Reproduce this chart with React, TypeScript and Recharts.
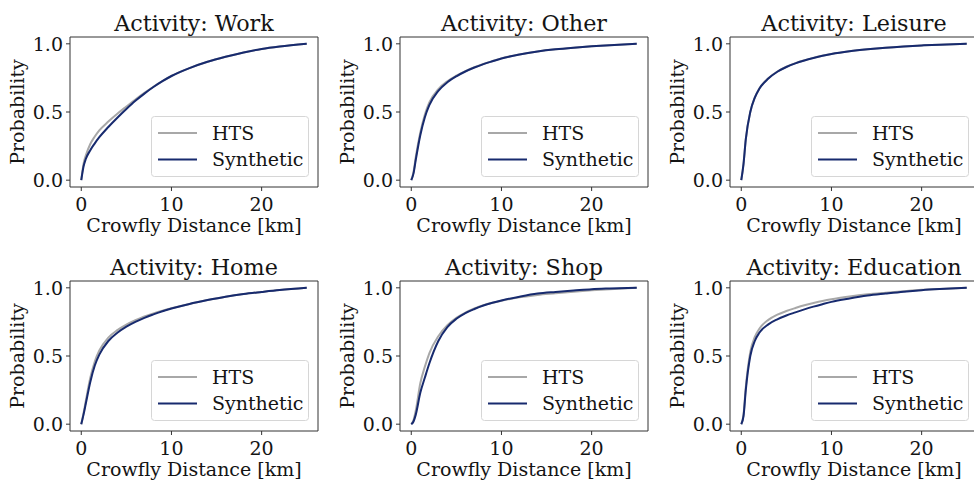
import React from "react";
import { LineChart, Line, XAxis, YAxis, ReferenceArea, Legend } from "recharts";

const distances = [0, 0.25, 0.5, 1, 1.5, 2, 3, 4, 5, 6, 7, 8, 9, 10, 12, 14, 16, 18, 20, 22, 25];

const workHTS = [0, 0.12, 0.18, 0.265, 0.32, 0.365, 0.43, 0.487, 0.54, 0.592, 0.64, 0.685, 0.726, 0.764, 0.822, 0.868, 0.905, 0.937, 0.962, 0.98, 1.0];
const workSyn = [0, 0.1, 0.155, 0.22, 0.27, 0.315, 0.39, 0.458, 0.522, 0.582, 0.635, 0.683, 0.726, 0.764, 0.822, 0.868, 0.905, 0.937, 0.962, 0.98, 1.0];

const otherHTS = [0, 0.06, 0.17, 0.35, 0.48, 0.57, 0.668, 0.726, 0.766, 0.8, 0.828, 0.852, 0.873, 0.893, 0.922, 0.944, 0.96, 0.972, 0.982, 0.99, 1.0];
const otherSyn = [0, 0.05, 0.15, 0.33, 0.46, 0.55, 0.655, 0.718, 0.762, 0.797, 0.826, 0.851, 0.872, 0.892, 0.922, 0.944, 0.96, 0.972, 0.982, 0.99, 1.0];

const leisureHTS = [0, 0.12, 0.3, 0.5, 0.605, 0.672, 0.748, 0.797, 0.832, 0.858, 0.879, 0.897, 0.912, 0.925, 0.945, 0.96, 0.972, 0.981, 0.988, 0.994, 1.0];
const leisureSyn = [0, 0.12, 0.3, 0.5, 0.605, 0.67, 0.745, 0.795, 0.83, 0.857, 0.878, 0.896, 0.912, 0.925, 0.945, 0.96, 0.972, 0.981, 0.988, 0.994, 1.0];

const homeHTS = [0, 0.08, 0.17, 0.34, 0.46, 0.54, 0.635, 0.69, 0.73, 0.762, 0.79, 0.812, 0.832, 0.85, 0.882, 0.91, 0.935, 0.955, 0.97, 0.984, 1.0];
const homeSyn = [0, 0.07, 0.15, 0.31, 0.43, 0.51, 0.61, 0.67, 0.715, 0.75, 0.78, 0.805, 0.828, 0.848, 0.882, 0.91, 0.935, 0.955, 0.97, 0.984, 1.0];

const shopHTS = [0, 0.03, 0.1, 0.3, 0.42, 0.52, 0.645, 0.725, 0.78, 0.818, 0.848, 0.872, 0.89, 0.905, 0.93, 0.948, 0.96, 0.972, 0.982, 0.99, 1.0];
const shopSyn = [0, 0.02, 0.07, 0.23, 0.34, 0.445, 0.61, 0.712, 0.773, 0.815, 0.845, 0.87, 0.89, 0.907, 0.935, 0.958, 0.97, 0.98, 0.99, 0.995, 1.0];

const eduHTS = [0, 0.07, 0.27, 0.53, 0.64, 0.70, 0.765, 0.803, 0.83, 0.852, 0.872, 0.888, 0.903, 0.916, 0.936, 0.952, 0.964, 0.975, 0.985, 0.992, 1.0];
const eduSyn = [0, 0.06, 0.25, 0.5, 0.61, 0.67, 0.732, 0.769, 0.797, 0.82, 0.842, 0.862, 0.88, 0.897, 0.922, 0.943, 0.958, 0.972, 0.983, 0.991, 1.0];

const activities = ["Work", "Other", "Leisure", "Home", "Shop", "Education"];
const htsSeries = [workHTS, otherHTS, leisureHTS, homeHTS, shopHTS, eduHTS];
const synSeries = [workSyn, otherSyn, leisureSyn, homeSyn, shopSyn, eduSyn];

const xTicks = [0, 10, 20];
const yTicks = [0, 0.5, 1.0];
const seriesNames = ["HTS", "Synthetic"];

const FONT = "'DejaVu Serif', serif";
const TXT = "#141414";
const HTS_COLOR = "#a8a8a8";
const SYN_COLOR = "#172a6e";
const SPINE = "#333333";

const CHART_W = 330;
const CHART_H = 244;
const PLOT_LEFT = 70;
const PLOT_W = 248;
const PLOT_TOP = 37;
const PLOT_H = 150;
const FS = 19;

const LegendBox = () => (
  <svg width={158} height={61} style={{ display: "block" }}>
    <rect x={0.5} y={0.5} width={157} height={60} rx={3} ry={3} fill="#ffffff" fillOpacity={0.8} stroke="#d6d6d6" strokeWidth={1} />
    <line x1={7} x2={46} y1={17} y2={17} stroke={HTS_COLOR} strokeWidth={2} />
    <text x={61} y={23.5} fontFamily={FONT} fontSize={FS} fill={TXT}>{seriesNames[0]}</text>
    <line x1={7} x2={46} y1={43.5} y2={43.5} stroke={SYN_COLOR} strokeWidth={2} />
    <text x={61} y={50} fontFamily={FONT} fontSize={FS} fill={TXT}>{seriesNames[1]}</text>
  </svg>
);

const YLabel = (props: any) => {
  const vb = props.viewBox || { x: 0, y: PLOT_TOP, width: PLOT_LEFT, height: PLOT_H };
  const cx = vb.x + 16.5;
  const cy = vb.y + vb.height / 2;
  return (
    <text
      x={cx}
      y={cy}
      transform={`rotate(-90, ${cx}, ${cy})`}
      textAnchor="middle"
      dominantBaseline="central"
      fontFamily={FONT}
      fontSize={FS}
      fill={TXT}
    >
      Probability
    </text>
  );
};

const XLabel = (props: any) => {
  const vb = props.viewBox || { x: PLOT_LEFT, y: PLOT_TOP + PLOT_H, width: PLOT_W, height: 57 };
  return (
    <text x={vb.x + vb.width / 2} y={vb.y + 44.5} textAnchor="middle" fontFamily={FONT} fontSize={FS} fill={TXT}>
      Crowfly Distance [km]
    </text>
  );
};

const Panel = ({ idx }: { idx: number }) => {
  const col = idx % 3;
  const row = Math.floor(idx / 3);
  const data = distances.map((d, i) => ({ d, hts: htsSeries[idx][i], syn: synSeries[idx][i] }));
  return (
    <div style={{ position: "absolute", left: col * CHART_W, top: row * CHART_H, width: CHART_W, height: CHART_H }}>
      <svg width={CHART_W} height={PLOT_TOP} style={{ position: "absolute", left: 0, top: 0 }}>
        <text x={PLOT_LEFT + PLOT_W / 2} y={31} textAnchor="middle" fontFamily={FONT} fontSize={22.3} fill={TXT}>
          {`Activity: ${activities[idx]}`}
        </text>
      </svg>
      <LineChart
        width={CHART_W}
        height={CHART_H}
        data={data}
        margin={{ top: PLOT_TOP, right: CHART_W - PLOT_LEFT - PLOT_W, bottom: 0, left: 0 }}
      >
        <XAxis
          dataKey="d"
          type="number"
          domain={[-1.25, 26.25]}
          ticks={xTicks}
          allowDataOverflow
          height={CHART_H - PLOT_TOP - PLOT_H}
          axisLine={false}
          tickSize={4}
          tickMargin={7}
          tickLine={{ stroke: SPINE }}
          tick={{ fontFamily: FONT, fontSize: FS, fill: TXT }}
          label={XLabel}
        />
        <YAxis
          type="number"
          domain={[-0.05, 1.05]}
          ticks={yTicks}
          allowDataOverflow
          width={PLOT_LEFT}
          axisLine={false}
          tickSize={4}
          tickMargin={3}
          tickLine={{ stroke: SPINE }}
          tick={{ fontFamily: FONT, fontSize: FS, fill: TXT }}
          tickFormatter={(v: number) => v.toFixed(1)}
          label={YLabel}
        />
        <Line type="monotone" dataKey="hts" name={seriesNames[0]} stroke={HTS_COLOR} strokeWidth={2} dot={false} isAnimationActive={false} />
        <Line type="monotone" dataKey="syn" name={seriesNames[1]} stroke={SYN_COLOR} strokeWidth={2} dot={false} isAnimationActive={false} />
        <ReferenceArea x1={-1.25} x2={26.25} y1={-0.05} y2={1.05} fill="none" fillOpacity={0} stroke={SPINE} strokeWidth={1} ifOverflow="visible" />
        <Legend
          layout="horizontal"
          verticalAlign="middle"
          align="center"
          content={() => <LegendBox />}
          wrapperStyle={{ left: PLOT_LEFT + PLOT_W - 9 - 158, top: 116, width: 158, height: 61 }}
        />
      </LineChart>
    </div>
  );
}

export default function App() {
  return (
    <div style={{ position: "absolute", left: 0, top: 0, width: 974, height: 481, overflow: "hidden", background: "#ffffff" }}>
      {activities.map((_, i) => (
        <Panel key={i} idx={i} />
      ))}
    </div>
  );
}
